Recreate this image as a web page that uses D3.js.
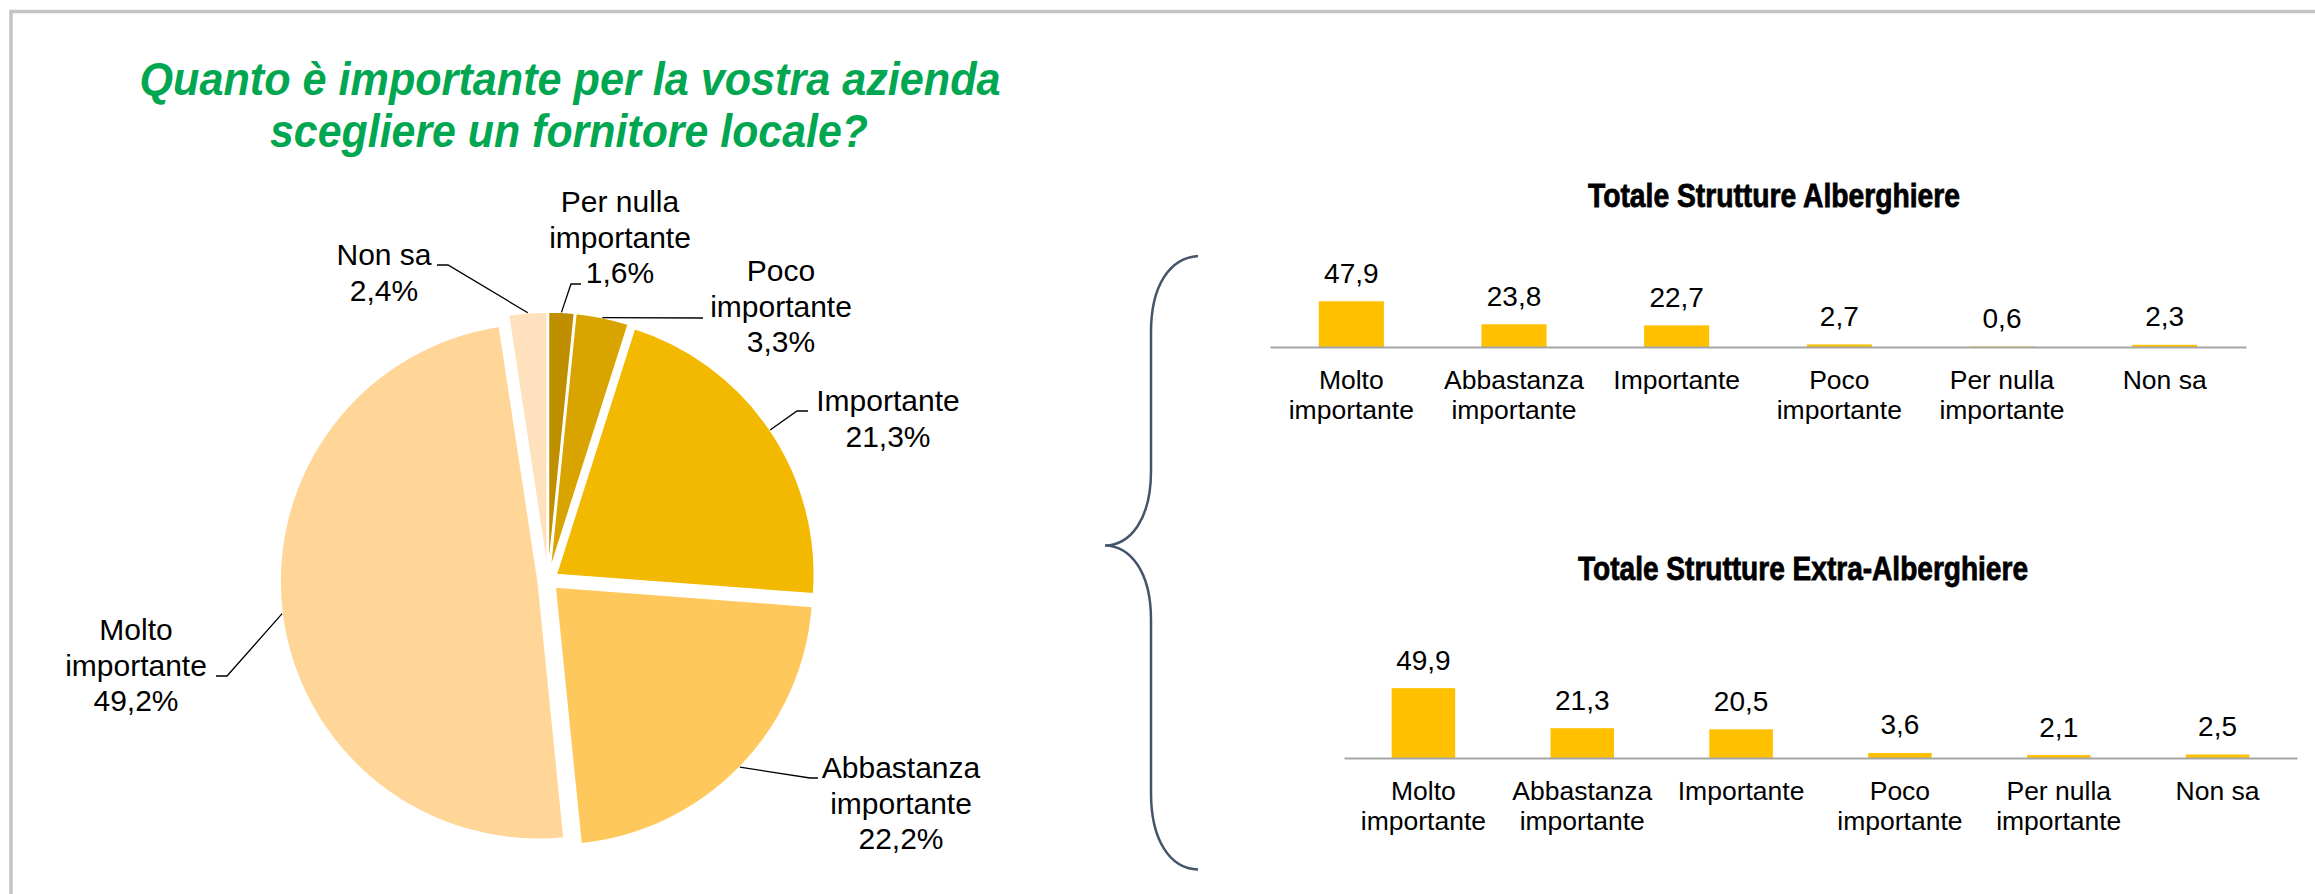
<!DOCTYPE html>
<html>
<head>
<meta charset="utf-8">
<script src="https://cdn.jsdelivr.net/npm/d3@7"></script>
<style>
  body { margin: 0; background: #fff; }
  svg { display: block; }
</style>
</head>
<body>
<script>
/* CONSTANTS */
const WIDTH = 2315;
const HEIGHT = 894;

/* DATA */
const pieCats = ["Per nulla importante", "Poco importante", "Importante", "Abbastanza importante", "Molto importante", "Non sa"];
const pieValues = [1.6, 3.3, 21.3, 22.2, 49.2, 2.4];
const pieColors = ["#bf8f00", "#d9a400", "#f3b800", "#ffc85c", "#ffd697", "#ffe2bd"];

const barCats = ["Molto importante", "Abbastanza importante", "Importante", "Poco importante", "Per nulla importante", "Non sa"];
const alberghiere = [47.9, 23.8, 22.7, 2.7, 0.6, 2.3];
const extraAlberghiere = [49.9, 21.3, 20.5, 3.6, 2.1, 2.5];

// label placement for the pie (text centre x, first baseline, leader elbow, leader end)
const pieLabelPos = [
  { x: 620, y: 212, elbow: [571, 284], end: [581, 284] },
  { x: 781, y: 281, elbow: null, end: [703, 318] },
  { x: 888, y: 411, elbow: [797, 411], end: [808, 411] },
  { x: 901, y: 778, elbow: [810, 778], end: [818, 778] },
  { x: 136, y: 640, elbow: [227, 676], end: [216, 676] },
  { x: 384, y: 265, elbow: [448, 265], end: [437, 265] }
];

const it = d3.formatLocale({ decimal: ",", thousands: ".", grouping: [3], currency: ["€", ""] });
const fmt = it.format(".1f");
const splitName = s => s.replace(/ importante$/, "\nimportante").split("\n");

const svg = d3.select("body")
    .append("svg")
    .attr("width", WIDTH)
    .attr("height", HEIGHT);

// frame
svg.append("rect")
    .attr("x", 11).attr("y", 11.5)
    .attr("width", WIDTH + 20).attr("height", HEIGHT + 20)
    .attr("fill", "none")
    .attr("stroke", "#c4c4c4")
    .attr("stroke-width", 3.5);

// title
const title = svg.append("g")
    .attr("fill", "#00a650")
    .attr("font-family", "Liberation Sans, Arial, sans-serif")
    .attr("font-style", "italic")
    .attr("font-weight", "bold")
    .attr("font-size", 46)
    .attr("text-anchor", "middle");
title.append("text").attr("x", 570).attr("y", 95)
    .attr("textLength", 861).attr("lengthAdjust", "spacingAndGlyphs")
    .text("Quanto è importante per la vostra azienda");
title.append("text").attr("x", 569).attr("y", 147)
    .attr("textLength", 598).attr("lengthAdjust", "spacingAndGlyphs")
    .text("scegliere un fornitore locale?");

/* PIE */
const cx = 548, cy = 580, R = 258, explode = 10;
const pie = d3.pie().sort(null).value(d => d);
const arcs = pie(pieValues);
const arc = d3.arc().innerRadius(0).outerRadius(R);
const mid = a => (a.startAngle + a.endAngle) / 2;

const pg = svg.append("g").attr("transform", `translate(${cx},${cy})`);
pg.selectAll("path")
    .data(arcs)
    .enter()
    .append("path")
    .attr("transform", d => `translate(${explode * Math.sin(mid(d))},${-explode * Math.cos(mid(d))})`)
    .attr("d", arc)
    .attr("fill", (d, i) => pieColors[i])
    .attr("stroke", "#fff")
    .attr("stroke-width", 1.5);

// leaders
svg.append("g").selectAll("path")
    .data(arcs)
    .enter()
    .append("path")
    .attr("fill", "none")
    .attr("stroke", "#000")
    .attr("stroke-width", 1.3)
    .attr("d", (d, i) => {
      const m = mid(d), p = pieLabelPos[i];
      const sx = cx + (R + explode) * Math.sin(m), sy = cy - (R + explode) * Math.cos(m);
      const pts = [[sx, sy]];
      if (p.elbow) pts.push(p.elbow);
      pts.push(p.end);
      return d3.line()(pts);
    });

const pl = svg.append("g")
    .attr("font-family", "Liberation Sans, Arial, sans-serif")
    .attr("font-size", 30)
    .attr("fill", "#000")
    .attr("text-anchor", "middle");
pieCats.forEach((c, i) => {
  const lines = splitName(c).concat([fmt(pieValues[i]) + "%"]);
  const t = pl.append("text").attr("x", pieLabelPos[i].x).attr("y", pieLabelPos[i].y);
  lines.forEach((l, j) => t.append("tspan").attr("x", pieLabelPos[i].x).attr("dy", j ? 35.7 : 0).text(l));
});

/* BRACE */
svg.append("path")
    .attr("fill", "none")
    .attr("stroke", "#44546a")
    .attr("stroke-width", 2.5)
    .attr("d", "M1198,256 C1170,258 1151,285 1151,332 L1151,471 C1151,520 1130,545 1105,545.5 " +
               "C1130,546 1151,571 1151,620 L1151,793 C1151,840 1170,869 1198,869.5");

/* BARS */
function drawBars(values, o) {
  const g = svg.append("g");
  const x = d3.scaleBand()
      .domain(d3.range(values.length))
      .range([o.x0, o.x1])
      .paddingInner(0.6)
      .paddingOuter(0.3);
  const y = d3.scaleLinear()
      .domain([0, 50])
      .range([o.axisY, o.axisY - 50 * o.pxPerUnit]);

  g.append("text")
      .attr("x", o.titleX).attr("y", o.titleY)
      .attr("text-anchor", "middle")
      .attr("font-family", "Liberation Sans, Arial, sans-serif")
      .attr("font-weight", "bold")
      .attr("font-size", 33)
      .attr("stroke", "#000")
      .attr("stroke-width", 0.8)
      .attr("textLength", o.titleLen).attr("lengthAdjust", "spacingAndGlyphs")
      .text(o.title);

  g.selectAll("rect")
      .data(values)
      .enter()
      .append("rect")
      .attr("x", (d, i) => x(i))
      .attr("width", x.bandwidth())
      .attr("y", d => y(d))
      .attr("height", d => y(0) - y(d))
      .attr("fill", "#ffc000");

  const ax = g.append("g")
      .attr("transform", `translate(0,${o.axisY})`)
      .call(d3.axisBottom(x).tickSize(0).tickSizeOuter(0).tickFormat(""));
  ax.select(".domain").attr("stroke", "#a6a6a6").attr("stroke-width", 2);

  g.selectAll(".val")
      .data(values)
      .enter()
      .append("text")
      .attr("class", "val")
      .attr("x", (d, i) => x(i) + x.bandwidth() / 2)
      .attr("y", d => y(d) - 18.5)
      .attr("text-anchor", "middle")
      .attr("font-family", "Liberation Sans, Arial, sans-serif")
      .attr("font-size", 28)
      .text(d => fmt(d));

  barCats.forEach((c, i) => {
    const t = g.append("text")
        .attr("x", x(i) + x.bandwidth() / 2)
        .attr("y", o.axisY + 42)
        .attr("text-anchor", "middle")
        .attr("font-family", "Liberation Sans, Arial, sans-serif")
        .attr("font-size", 26.5);
    splitName(c).forEach((l, j) => t.append("tspan")
        .attr("x", x(i) + x.bandwidth() / 2)
        .attr("dy", j ? 30 : 0)
        .text(l));
  });
}

drawBars(alberghiere, {
  x0: 1270, x1: 2246, axisY: 347, pxPerUnit: 0.955,
  title: "Totale Strutture Alberghiere", titleX: 1774, titleY: 207, titleLen: 372
});
drawBars(extraAlberghiere, {
  x0: 1344, x1: 2297, axisY: 758, pxPerUnit: 1.40,
  title: "Totale Strutture Extra-Alberghiere", titleX: 1803, titleY: 580, titleLen: 450
});
</script>
</body>
</html>
